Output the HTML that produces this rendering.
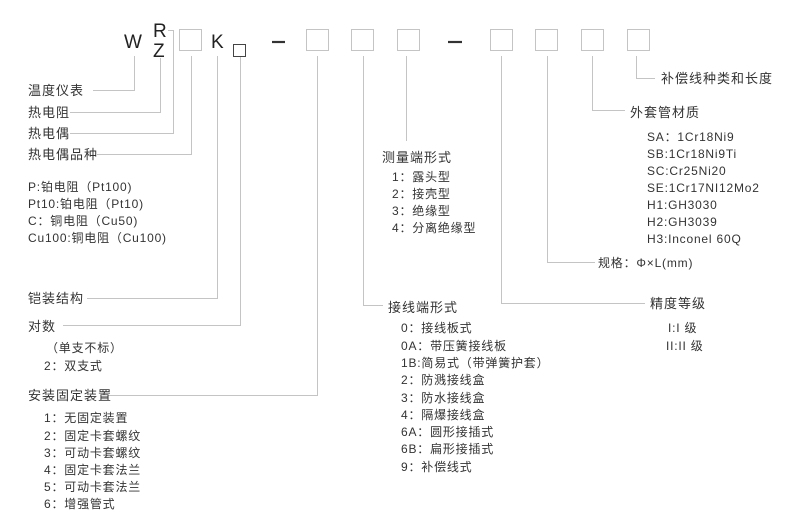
<!DOCTYPE html>
<html><head><meta charset="utf-8"><style>
html,body{margin:0;padding:0;background:#fff;}
svg{display:block;}
text{font-family:"Liberation Sans","Noto Sans CJK SC",sans-serif;fill:#333;font-size:12px;letter-spacing:0.8px;}
.l{font-size:13px;fill:#333;letter-spacing:1px;}
.big{font-size:19px;fill:#222;letter-spacing:0;}
</style></head><body>
<svg width="800" height="532" viewBox="0 0 800 532">
<g fill="none" stroke="#c4c4c4" stroke-width="1">
<rect x="179.5" y="29.5" width="22" height="21"/>
<rect x="306.5" y="29.5" width="22" height="21"/>
<rect x="351.5" y="29.5" width="22" height="21"/>
<rect x="397.5" y="29.5" width="22" height="21"/>
<rect x="490.5" y="29.5" width="22" height="21"/>
<rect x="535.5" y="29.5" width="22" height="21"/>
<rect x="581.5" y="29.5" width="22" height="21"/>
<rect x="627.5" y="29.5" width="22" height="21"/>
<polyline points="134.5,56 134.5,90.5 93,90.5"/>
<polyline points="160.5,58 160.5,112.5 70,112.5"/>
<polyline points="168,30.5 173.5,30.5 173.5,133.5 70,133.5"/>
<polyline points="191.5,56 191.5,154.5 97,154.5"/>
<polyline points="217.5,56 217.5,298.5 87,298.5"/>
<polyline points="240.5,57 240.5,325.5 63,325.5"/>
<polyline points="317.5,56 317.5,395.5 108,395.5"/>
<polyline points="363.5,56 363.5,305.5 383,305.5"/>
<polyline points="406.5,56 406.5,141"/>
<polyline points="501.5,56 501.5,303.5 645,303.5"/>
<polyline points="547.5,56 547.5,262.5 595,262.5"/>
<polyline points="592.5,56 592.5,110.5 625,110.5"/>
<polyline points="636.5,56 636.5,78.5 655,78.5"/>
</g>
<rect x="233.5" y="44.5" width="12" height="12" fill="none" stroke="#444"/>
<g stroke="#333" stroke-width="2.2">
<line x1="272" y1="42" x2="285" y2="42"/>
<line x1="448" y1="42" x2="462" y2="42"/>
</g>
<text class="big" x="124" y="48">W</text>
<text class="big" x="153" y="37">R</text>
<text class="big" x="153" y="57">Z</text>
<text class="big" x="211" y="48">K</text>

<text class="l" x="28" y="95">温度仪表</text>
<text class="l" x="28" y="117">热电阻</text>
<text class="l" x="28" y="138">热电偶</text>
<text class="l" x="28" y="159">热电偶品种</text>
<text x="28" y="191">P:铂电阻（Pt100)</text>
<text x="28" y="208">Pt10:铂电阻（Pt10)</text>
<text x="28" y="225">C：铜电阻（Cu50)</text>
<text x="28" y="242">Cu100:铜电阻（Cu100)</text>
<text class="l" x="28" y="303">铠装结构</text>
<text class="l" x="28" y="331">对数</text>
<text x="46" y="352">（单支不标）</text>
<text x="44" y="370">2：双支式</text>
<text class="l" x="28" y="400">安装固定装置</text>
<text x="44" y="422">1：无固定装置</text>
<text x="44" y="440">2：固定卡套螺纹</text>
<text x="44" y="457">3：可动卡套螺纹</text>
<text x="44" y="474">4：固定卡套法兰</text>
<text x="44" y="491">5：可动卡套法兰</text>
<text x="44" y="508">6：增强管式</text>

<text class="l" x="382" y="162">测量端形式</text>
<text x="392" y="181">1：露头型</text>
<text x="392" y="198">2：接壳型</text>
<text x="392" y="215">3：绝缘型</text>
<text x="392" y="232">4：分离绝缘型</text>

<text class="l" x="388" y="312">接线端形式</text>
<text x="401" y="332">0：接线板式</text>
<text x="401" y="350">0A：带压簧接线板</text>
<text x="401" y="367">1B:简易式（带弹簧护套）</text>
<text x="401" y="384">2：防溅接线盒</text>
<text x="401" y="402">3：防水接线盒</text>
<text x="401" y="419">4：隔爆接线盒</text>
<text x="401" y="436">6A：圆形接插式</text>
<text x="401" y="453">6B：扁形接插式</text>
<text x="401" y="471">9：补偿线式</text>

<text class="l" x="661" y="83">补偿线种类和长度</text>
<text class="l" x="630" y="117">外套管材质</text>
<text x="647" y="141">SA：1Cr18Ni9</text>
<text x="647" y="158">SB:1Cr18Ni9Ti</text>
<text x="647" y="175">SC:Cr25Ni20</text>
<text x="647" y="192">SE:1Cr17NI12Mo2</text>
<text x="647" y="209">H1:GH3030</text>
<text x="647" y="226">H2:GH3039</text>
<text x="647" y="243">H3:Inconel 60Q</text>
<text x="598" y="267">规格：Φ×L(mm)</text>
<text class="l" x="650" y="308">精度等级</text>
<text x="668" y="332">I:I 级</text>
<text x="666" y="350">II:II 级</text>
</svg>
</body></html>
